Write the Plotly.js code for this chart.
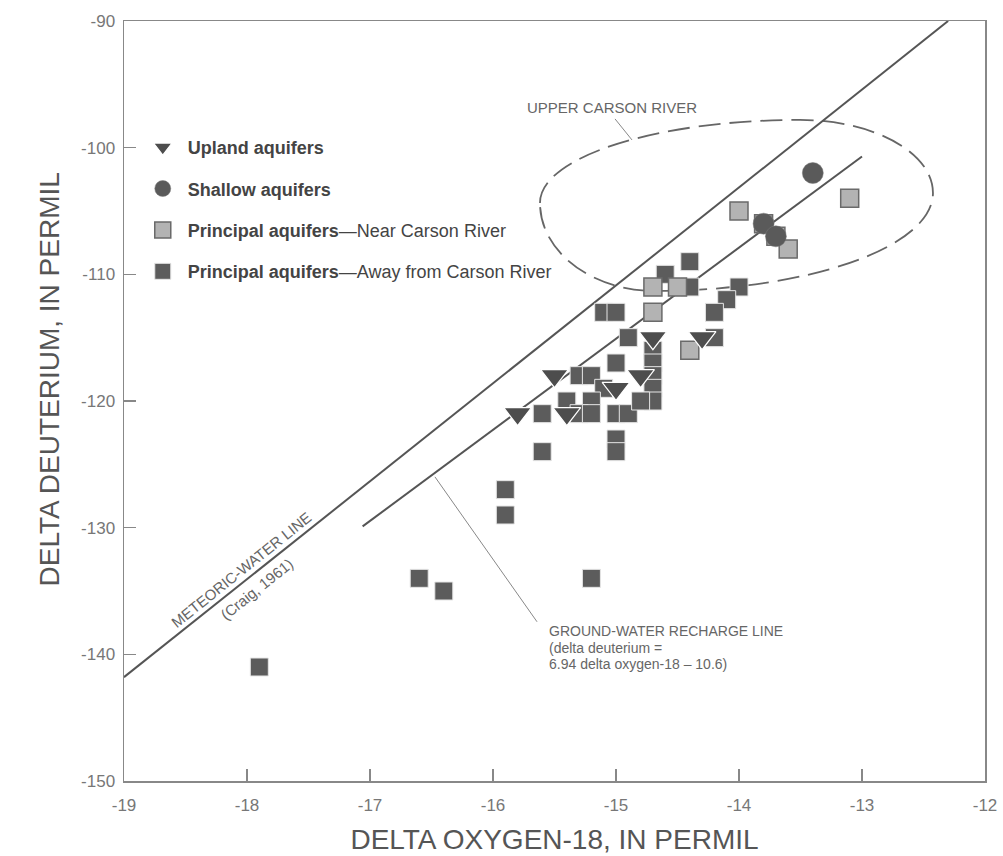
<!DOCTYPE html>
<html>
<head>
<meta charset="utf-8">
<script src="https://cdn.plot.ly/plotly-3.0.1.min.js"></script>
<style>
  html, body { margin: 0; padding: 0; background: #ffffff; }
  #chart { width: 1003px; height: 856px; }
</style>
</head>
<body>
<div id="chart"></div>
<script>
// ---- Data ----
// Upland aquifers (triangles)
const uplandX = [-15.8, -15.5, -15.4, -15.0, -14.8, -14.7, -14.3];
const uplandY = [-121, -118, -121, -119, -118, -115, -115];

// Shallow aquifers (circles)
const shallowX = [-13.4, -13.8, -13.7];
const shallowY = [-102, -106, -107];

// Principal aquifers - near Carson River (light squares)
const nearX = [-13.1, -14.0, -13.8, -13.7, -13.6, -14.7, -14.5, -14.7, -14.4];
const nearY = [-104, -105, -106, -107, -108, -111, -111, -113, -116];

// Principal aquifers - away from Carson River (dark squares)
const awayX = [-14.4, -14.6, -14.4, -14.0, -14.1, -14.2, -15.1, -15.0, -14.9, -14.2,
               -15.0, -15.3, -15.2, -15.1, -15.4, -15.2, -15.6, -15.3, -15.2, -15.0,
               -14.9, -15.0, -15.0, -15.6, -14.7, -14.7, -14.7, -14.7, -14.7, -14.8,
               -15.9, -15.9, -16.6, -16.4, -15.2, -17.9];
const awayY = [-109, -110, -111, -111, -112, -113, -113, -113, -115, -115,
               -117, -118, -118, -119, -120, -120, -121, -121, -121, -121,
               -121, -123, -124, -124, -116, -117, -118, -119, -120, -120,
               -127, -129, -134, -135, -134, -141];

// Reference lines (end points)
const meteoricX = [-19, -12.3];
const meteoricY = [-141.8, -90];
const rechargeX = [-17.06, -13.0];
const rechargeY = [-129.9, -100.7];

// Upper Carson River outline: left, top, right, bottom extreme points
const ellipseX = [-15.618, -13.504, -12.423, -14.683];
const ellipseY = [-104.36, -97.81, -103.58, -111.31];

// Axis ticks
const xTickVals = [-19, -18, -17, -16, -15, -14, -13, -12];
const xTickText = ['-19', '-18', '-17', '-16', '-15', '-14', '-13', '-12'];
const yTickVals = [-150, -140, -130, -120, -110, -100, -90];
const yTickText = ['-150', '-140', '-130', '-120', '-110', '-100', '-90'];

// ---- Build outline path (Bezier through the four extreme points) ----
function outlinePath(xs, ys) {
  const k = 0.5523;
  const [Lx, Tx, Rx, Bx] = xs;
  const [Ly, Ty, Ry, By] = ys;
  const p = (x, y) => x.toFixed(4) + ',' + y.toFixed(4);
  return 'M' + p(Lx, Ly) +
    ' C' + p(Lx, Ly + k * (Ty - Ly)) + ' ' + p(Tx - k * (Tx - Lx), Ty) + ' ' + p(Tx, Ty) +
    ' C' + p(Tx + k * (Rx - Tx), Ty) + ' ' + p(Rx, Ry + k * (Ty - Ry)) + ' ' + p(Rx, Ry) +
    ' C' + p(Rx, Ry + k * (By - Ry)) + ' ' + p(Bx + k * (Rx - Bx), By) + ' ' + p(Bx, By) +
    ' C' + p(Bx - k * (Bx - Lx), By) + ' ' + p(Lx, Ly + k * (By - Ly)) + ' ' + p(Lx, Ly) + ' Z';
}

const FONT = '"Liberation Sans", Arial, Helvetica, sans-serif';
const LINE_GRAY = '#555555';

const traces = [
  {
    x: meteoricX, y: meteoricY, mode: 'lines', showlegend: false, hoverinfo: 'skip',
    line: { color: LINE_GRAY, width: 2 }
  },
  {
    x: rechargeX, y: rechargeY, mode: 'lines', showlegend: false, hoverinfo: 'skip',
    line: { color: LINE_GRAY, width: 2 }
  },
  {
    name: '<b>Principal aquifers</b>—Away from Carson River',
    legendgroup: 'd', legendrank: 4, x: awayX, y: awayY, mode: 'markers', type: 'scatter',
    marker: { symbol: 'square', size: 18, color: '#5c5c5c', line: { color: '#e6e6e6', width: 1 } }
  },
  {
    name: '<b>Principal aquifers</b>—Near Carson River',
    legendgroup: 'c', legendrank: 3, x: nearX, y: nearY, mode: 'markers', type: 'scatter',
    marker: { symbol: 'square', size: 18, color: '#b3b3b3', line: { color: '#6a6a6a', width: 1.5 } }
  },
  {
    name: '<b>Shallow aquifers</b>',
    legendgroup: 'b', legendrank: 2, x: shallowX, y: shallowY, mode: 'markers', type: 'scatter',
    marker: { symbol: 'circle', size: 21, color: '#5a5a5a', line: { color: '#7a7a7a', width: 0.5 } }
  },
  {
    name: '<b>Upland aquifers</b>',
    legendgroup: 'a', legendrank: 1, x: uplandX, y: uplandY, mode: 'markers', type: 'scatter',
    marker: { symbol: 'triangle-down', size: 24, color: '#4d4d4d', line: { color: '#ffffff', width: 1.2 } }
  }
];

const annoFont = (size) => ({ family: FONT, size: size, color: '#666666' });

const layout = {
  width: 1003, height: 856,
  margin: { l: 124, r: 18, t: 21, b: 75 },
  paper_bgcolor: '#ffffff', plot_bgcolor: '#ffffff',
  font: { family: FONT, color: '#555555' },
  showlegend: true,
  legend: {
    x: 0.016, y: 0.858, xanchor: 'left', yanchor: 'top',
    bgcolor: 'rgba(0,0,0,0)', borderwidth: 0,
    traceorder: 'grouped', tracegroupgap: 15, itemwidth: 40,
    font: { family: FONT, size: 18, color: '#444444' }
  },
  xaxis: {
    range: [-19, -12], tickmode: 'array', tickvals: xTickVals, ticktext: xTickText,
    ticks: 'inside', ticklen: 12, tickwidth: 1.3, tickcolor: '#888888',
    showline: true, linecolor: '#888888', linewidth: 1.5, mirror: true,
    showgrid: false, zeroline: false, ticklabelstandoff: 8,
    tickfont: { family: FONT, size: 17, color: '#777777' },
    title: { text: 'DELTA OXYGEN-18, IN PERMIL', standoff: 15,
             font: { family: FONT, size: 28, color: '#555555' } }
  },
  yaxis: {
    range: [-150, -90], tickmode: 'array', tickvals: yTickVals, ticktext: yTickText,
    ticks: 'inside', ticklen: 12, tickwidth: 1.3, tickcolor: '#888888',
    showline: true, linecolor: '#888888', linewidth: 1.5, mirror: true,
    showgrid: false, zeroline: false, ticklabelstandoff: 4,
    tickfont: { family: FONT, size: 17, color: '#777777' }
  },
  shapes: [
    {
      type: 'path', xref: 'x', yref: 'y', layer: 'below',
      path: outlinePath(ellipseX, ellipseY),
      line: { color: '#666666', width: 1.8, dash: '22px,9px' }
    },
    {
      type: 'line', xref: 'x', yref: 'y', x0: -15.008, y0: -97.73, x1: -14.870, y1: -99.39,
      line: { color: '#888888', width: 1 }
    },
    {
      type: 'line', xref: 'x', yref: 'y', x0: -16.472, y0: -125.99, x1: -15.642, y1: -137.43,
      line: { color: '#888888', width: 1 }
    }
  ],
  annotations: [
    {
      text: 'DELTA DEUTERIUM, IN PERMIL', xref: 'paper', yref: 'paper',
      x: (31 - 124) / 861, y: 1 - (380 - 21) / 760, showarrow: false, textangle: -90,
      font: { family: FONT, size: 28, color: '#555555' }
    },
    {
      text: 'UPPER CARSON RIVER', xref: 'x', yref: 'y', x: -15.033, y: -96.79,
      showarrow: false, font: annoFont(15)
    },
    {
      text: 'METEORIC-WATER LINE', xref: 'x', yref: 'y', x: -18.045, y: -133.29,
      showarrow: false, textangle: -38.7, font: annoFont(15)
    },
    {
      text: '(Craig, 1961)', xref: 'x', yref: 'y', x: -17.915, y: -134.83,
      showarrow: false, textangle: -38.7, font: annoFont(15)
    },
    {
      text: 'GROUND-WATER RECHARGE LINE', xref: 'x', yref: 'y', x: -15.561, y: -138.15,
      xanchor: 'left', showarrow: false, font: annoFont(14)
    },
    {
      text: '(delta deuterium =', xref: 'x', yref: 'y', x: -15.561, y: -139.49,
      xanchor: 'left', showarrow: false, font: annoFont(14)
    },
    {
      text: '6.94 delta oxygen-18 – 10.6)', xref: 'x', yref: 'y', x: -15.561, y: -140.75,
      xanchor: 'left', showarrow: false, font: annoFont(14)
    }
  ]
};

Plotly.newPlot('chart', traces, layout, { displayModeBar: false, staticPlot: true });
</script>
</body>
</html>
